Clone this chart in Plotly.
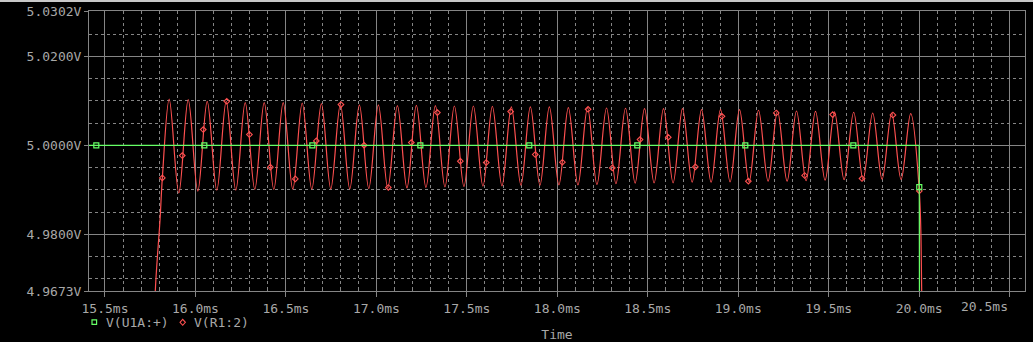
import plotly.graph_objects as go

# ---------------- data ----------------
# time in ms, voltage in V
peak_t = [15.855, 15.960, 16.065, 16.170, 16.275, 16.380, 16.485, 16.590, 16.696, 16.801,
          16.906, 17.011, 17.116, 17.221, 17.326, 17.431, 17.536, 17.641, 17.746, 17.851,
          17.956, 18.061, 18.167, 18.272, 18.377, 18.482, 18.587, 18.692, 18.797, 18.902,
          19.007, 19.112, 19.217, 19.322, 19.427, 19.532, 19.638, 19.743, 19.848, 19.953]
peak_v = [5.01043, 5.01030, 5.00992, 5.00992, 5.00962, 5.00962, 5.00962, 5.00953, 5.00940, 5.00924,
          5.00909, 5.00909, 5.00895, 5.00900, 5.00895, 5.00886, 5.00886, 5.00879, 5.00868, 5.00864,
          5.00864, 5.00850, 5.00850, 5.00841, 5.00835, 5.00828, 5.00828, 5.00828, 5.00805, 5.00805,
          5.00805, 5.00790, 5.00774, 5.00774, 5.00767, 5.00752, 5.00745, 5.00729, 5.00729, 5.00716]
trough_t = [15.908, 16.013, 16.118, 16.223, 16.328, 16.433, 16.538, 16.643, 16.748, 16.853,
            16.958, 17.063, 17.169, 17.274, 17.379, 17.484, 17.589, 17.694, 17.799, 17.904,
            18.009, 18.114, 18.219, 18.324, 18.430, 18.535, 18.640, 18.745, 18.850, 18.955,
            19.060, 19.165, 19.270, 19.375, 19.480, 19.585, 19.690, 19.795, 19.900]
trough_v = [4.98934, 4.98973, 4.98995, 4.98995, 4.99011, 4.99011, 4.99017, 4.99017, 4.99024, 4.99024,
            4.99033, 4.99040, 4.99047, 4.99056, 4.99069, 4.99078, 4.99085, 4.99091, 4.99107, 4.99107,
            4.99114, 4.99114, 4.99123, 4.99141, 4.99152, 4.99159, 4.99159, 4.99174, 4.99174, 4.99181,
            4.99181, 4.99197, 4.99197, 4.99208, 4.99219, 4.99231, 4.99235, 4.99242, 4.99235]
# start-up edge (rising from below the view) and final collapse
rise_t = [15.760, 15.778, 15.804, 15.817]
rise_v = [4.94000, 4.96730, 4.98320, 4.99271]
fall_t = [20.0006, 20.0139, 20.0220]
fall_v = [4.98979, 4.96730, 4.93000]

# diamond symbols on V(R1:2)
r1_mark_t = [15.817, 15.927, 16.043, 16.173, 16.298, 16.414, 16.552, 16.668, 16.804, 16.932,
             17.066, 17.193, 17.337, 17.464, 17.607, 17.742, 17.878, 18.028, 18.170, 18.304,
             18.457, 18.613, 18.763, 18.910, 19.056, 19.210, 19.367, 19.522, 19.684, 19.855, 20.001]
r1_mark_v = [4.99271, 4.99773, 5.00357, 5.00992, 5.00245, 4.99511, 4.99248, 5.00101, 5.00918, 5.00004,
             4.99056, 5.00065, 5.00738, 4.99646, 4.99616, 5.00761, 4.99796, 4.99623, 5.00812, 4.99495,
             5.00132, 5.00184, 4.99518, 5.00655, 4.99197, 5.00729, 4.99325, 5.00693, 4.99257, 5.00684, 4.98979]

# V(U1A:+) : flat 5 V then drop at 20 ms
u1_t = [15.400, 20.000, 20.0005, 20.003]
u1_v = [5.00000, 5.00000, 4.99062, 4.93000]
u1_mark_t = [15.452, 16.049, 16.646, 17.243, 17.845, 18.442, 19.039, 19.636, 20.0005]
u1_mark_v = [5.0, 5.0, 5.0, 5.0, 5.0, 5.0, 5.0, 5.0, 4.99062]

series_names = ["V(U1A:+)", "V(R1:2)"]

# axes
x_ticks = [15.5, 16.0, 16.5, 17.0, 17.5, 18.0, 18.5, 19.0, 19.5, 20.0, 20.5]
x_labels = ["15.5ms", "16.0ms", "16.5ms", "17.0ms", "17.5ms", "18.0ms",
            "18.5ms", "19.0ms", "19.5ms", "20.0ms", "20.5ms"]
x_minor = [round(15.5 + 0.1 * k, 1) for k in range(1, 50) if k % 5 != 0]
y_ticks = [4.9673, 4.98, 5.00, 5.02, 5.0302]
y_labels = ["4.9673V", "4.9800V", "5.0000V", "5.0200V", "5.0302V"]
y_minor = [4.970, 4.975, 4.985, 4.990, 4.995, 5.005, 5.010, 5.015, 5.025]
x_range = [15.4116, 20.5849]
y_range = [4.9673, 5.0302]

# ---------------- build red series from read points ----------------
pts = list(zip(rise_t, rise_v)) + list(zip(peak_t, peak_v)) + list(zip(trough_t, trough_v)) + list(zip(fall_t, fall_v))
pts.sort(key=lambda p: p[0])
r1_t = [p[0] for p in pts]
r1_v = [p[1] for p in pts]

RED = "#ff5050"
GREEN = "#66ff66"
GRID = "#858585"
TEXT = "#a8a8a8"
FONT = "DejaVu Sans Mono"
DASH = "3px,3px"

W, H = 1033, 342
ML, MR, MT, MB = 89, 8, 11, 51
PW, PH = W - ML - MR, H - MT - MB


def px(xp):  # pixel -> paper x
    return (xp - ML) / PW


def py(yp):  # pixel -> paper y
    return (H - MB - yp) / PH


fig = go.Figure()
fig.add_trace(go.Scatter(x=r1_t, y=r1_v, mode="lines", line=dict(color=RED, width=1.2, shape="spline", smoothing=1),
                         showlegend=False, hoverinfo="skip"))
fig.add_trace(go.Scatter(x=r1_mark_t, y=r1_mark_v, mode="markers",
                         marker=dict(symbol="diamond-open", size=4.3, color=RED, line=dict(width=1.1, color=RED)),
                         showlegend=False, hoverinfo="skip"))
fig.add_trace(go.Scatter(x=u1_t, y=u1_v, mode="lines", line=dict(color=GREEN, width=1.2),
                         showlegend=False, hoverinfo="skip"))
fig.add_trace(go.Scatter(x=u1_mark_t, y=u1_mark_v, mode="markers",
                         marker=dict(symbol="square-open", size=5, color=GREEN, line=dict(width=1.2, color=GREEN)),
                         showlegend=False, hoverinfo="skip"))

# last tick label is clamped to the left of its grid line (as in the reference)
x_labels_axis = x_labels[:-1] + [""]

fig.update_xaxes(range=x_range, tickmode="array", tickvals=x_ticks, ticktext=x_labels_axis,
                 automargin=False,
                 showgrid=True, gridcolor=GRID, gridwidth=1, zeroline=False,
                 showline=True, linecolor=GRID, linewidth=1, mirror=True,
                 ticks="outside", ticklen=5, tickcolor=GRID,
                 tickfont=dict(family=FONT, size=13, color=TEXT),
                 title=dict(text="Time", font=dict(family=FONT, size=13, color=TEXT), standoff=20),
                 minor=dict(tickmode="array", tickvals=x_minor, showgrid=True, gridcolor=GRID,
                            griddash=DASH, gridwidth=1, ticks="inside", ticklen=3, tickcolor=GRID))
fig.update_yaxes(range=y_range, tickmode="array", tickvals=y_ticks, ticktext=y_labels,
                 automargin=False,
                 showgrid=True, gridcolor=GRID, gridwidth=1, zeroline=False,
                 showline=True, linecolor=GRID, linewidth=1, mirror=True,
                 ticks="outside", ticklen=4, tickcolor=GRID,
                 tickfont=dict(family=FONT, size=13, color=TEXT),
                 minor=dict(tickmode="array", tickvals=y_minor, showgrid=True, gridcolor=GRID,
                            griddash=DASH, gridwidth=1))

annotations = [
    dict(x=x_ticks[-1], xref="x", y=0, yref="paper", text=x_labels[-1], showarrow=False,
         xanchor="right", yanchor="top", yshift=-6, font=dict(family=FONT, size=13, color=TEXT)),
    dict(x=px(105.5), xref="paper", y=py(322), yref="paper", text=series_names[0], showarrow=False,
         xanchor="left", yanchor="middle", xshift=-2, font=dict(family=FONT, size=13, color=TEXT)),
    dict(x=px(193.5), xref="paper", y=py(322), yref="paper", text=series_names[1], showarrow=False,
         xanchor="left", yanchor="middle", xshift=-2, font=dict(family=FONT, size=13, color=TEXT)),
]

# legend key symbols (square and diamond) drawn in paper space
sq = (92.0, 319.8, 96.6, 324.4)
dm_c, dm_w, dm_h = (182.7, 322.3), 2.7, 3.0
shapes = [
    dict(type="rect", xref="paper", yref="paper", x0=-0.1, x1=1.01, y0=py(2), y1=py(0),
         fillcolor="#c8c8c8", line=dict(width=0), layer="above"),
    dict(type="rect", xref="paper", yref="paper", x0=px(sq[0]), x1=px(sq[2]), y0=py(sq[3]), y1=py(sq[1]),
         line=dict(color=GREEN, width=1.2), fillcolor="rgba(0,0,0,0)"),
    dict(type="path", xref="paper", yref="paper",
         path="M {} {} L {} {} L {} {} L {} {} Z".format(
             px(dm_c[0] - dm_w), py(dm_c[1]), px(dm_c[0]), py(dm_c[1] - dm_h),
             px(dm_c[0] + dm_w), py(dm_c[1]), px(dm_c[0]), py(dm_c[1] + dm_h)),
         line=dict(color=RED, width=1.1), fillcolor="rgba(0,0,0,0)"),
]

fig.update_layout(
    width=W, height=H,
    margin=dict(l=ML, r=MR, t=MT, b=MB, pad=0),
    paper_bgcolor="black", plot_bgcolor="black",
    font=dict(family=FONT, size=13, color=TEXT),
    hovermode=False,
    showlegend=False,
    annotations=annotations,
    shapes=shapes,
)

fig.write_html("out.html", config={"displayModeBar": False, "staticPlot": True})
